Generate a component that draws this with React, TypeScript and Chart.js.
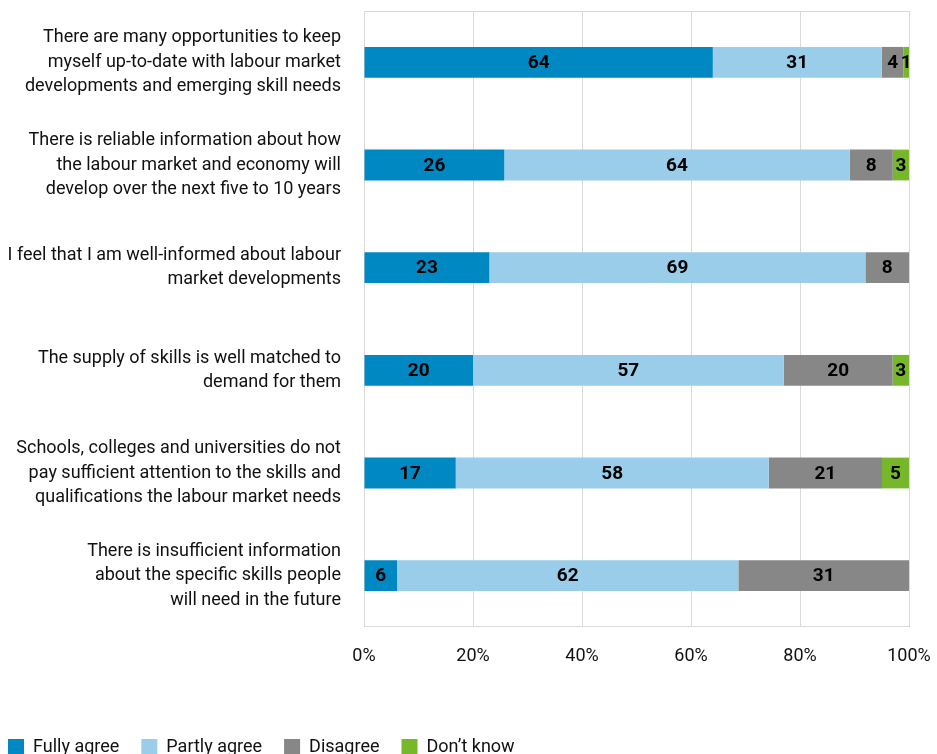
import React, { useEffect, useRef } from "react";
import { Chart, registerables } from "chart.js";

Chart.register(...registerables);

const categories: string[][] = [
  ["There are many opportunities to keep", "myself up-to-date with labour market", "developments and emerging skill needs"],
  ["There is reliable information about how", "the labour market and economy will", "develop over the next five to 10 years"],
  ["I feel that I am well-informed about labour", "market developments"],
  ["The supply of skills is well matched to", "demand for them"],
  ["Schools, colleges and universities do not", "pay sufficient attention to the skills and", "qualifications the labour market needs"],
  ["There is insufficient information", "about the specific skills people", "will need in the future"],
];

const fullyAgree = [64, 26, 23, 20, 17, 6];
const partlyAgree = [31, 64, 69, 57, 58, 62];
const disagree = [4, 8, 8, 20, 21, 31];
const dontKnow = [1, 3, 0, 3, 5, 0];

const seriesNames = ["Fully agree", "Partly agree", "Disagree", "Don\u2019t know"];
const seriesColors = ["#0088c2", "#99cde9", "#878787", "#76b82a"];
const xTicks = [0, 20, 40, 60, 80, 100];

const FONT = "Roboto, 'Liberation Sans', sans-serif";

export default function App() {
  const ref = useRef<HTMLCanvasElement | null>(null);

  useEffect(() => {
    if (!ref.current) return;
    const raw = [fullyAgree, partlyAgree, disagree, dontKnow];
    const totals = categories.map((_, i) => raw.reduce((s, arr) => s + arr[i], 0));
    const datasets = raw.map((arr, k) => ({
      label: seriesNames[k],
      data: arr.map((v, i) => (v / totals[i]) * 100),
      rawValues: arr,
      backgroundColor: seriesColors[k],
      borderWidth: 0,
      barPercentage: 0.3,
      categoryPercentage: 1,
    }));

    const frame = {
      id: "frame",
      beforeDatasetsDraw(chart: any) {
        const { ctx, chartArea } = chart;
        ctx.save();
        ctx.strokeStyle = "#d9d9d9";
        ctx.lineWidth = 1;
        ctx.beginPath();
        ctx.moveTo(chartArea.left, Math.round(chartArea.top) + 0.5);
        ctx.lineTo(chartArea.right, Math.round(chartArea.top) + 0.5);
        ctx.moveTo(chartArea.left, Math.round(chartArea.bottom) - 0.5);
        ctx.lineTo(chartArea.right, Math.round(chartArea.bottom) - 0.5);
        ctx.stroke();
        ctx.restore();
      },
    };

    const valueLabels = {
      id: "valueLabels",
      afterDatasetsDraw(chart: any) {
        const { ctx } = chart;
        ctx.save();
        ctx.font = `bold 19px ${FONT}`;
        ctx.fillStyle = "#000";
        ctx.textAlign = "center";
        ctx.textBaseline = "middle";
        chart.data.datasets.forEach((ds: any, di: number) => {
          const meta = chart.getDatasetMeta(di);
          meta.data.forEach((bar: any, i: number) => {
            const v = ds.rawValues[i];
            if (!v) return;
            ctx.fillText(String(v), (bar.x + bar.base) / 2, bar.y + 1);
          });
        });
        ctx.restore();
      },
    };

    const chart = new Chart(ref.current, {
      type: "bar",
      data: { labels: categories, datasets: datasets as any },
      options: {
        indexAxis: "y",
        animation: false,
        responsive: true,
        maintainAspectRatio: false,
        layout: { padding: { top: 11, left: 0, right: 0, bottom: 0 } },
        scales: {
          x: {
            stacked: true,
            min: 0,
            max: 100,
            afterBuildTicks: (scale: any) => {
              scale.ticks = xTicks.map((v) => ({ value: v }));
            },
            afterFit: (scale: any) => {
              scale.height = 89;
              scale.paddingLeft = 0;
              scale.paddingRight = 28;
            },
            grid: { color: "#d9d9d9", lineWidth: 1, drawTicks: false },
            border: { display: false },
            ticks: {
              padding: 19,
              color: "#111",
              font: { family: FONT, size: 18 },
              callback: (v: any) => v + "%",
            },
          },
          y: {
            stacked: true,
            afterFit: (scale: any) => {
              scale.width = 378;
              scale.paddingTop = 0;
              scale.paddingBottom = 0;
            },
            grid: { display: false },
            border: { display: false },
            ticks: {
              padding: 15,
              color: "#111",
              font: { family: FONT, size: 18, lineHeight: 1.37 },
            },
          },
        },
        plugins: {
          tooltip: { enabled: false },
          legend: {
            position: "bottom",
            align: "start",
            labels: {
              boxWidth: 16,
              boxHeight: 16,
              padding: 22,
              color: "#111",
              font: { family: FONT, size: 18 },
            },
          },
        },
      },
      plugins: [frame, valueLabels],
    });
    return () => chart.destroy();
  }, []);

  return (
    <div style={{ position: "fixed", left: -14, top: 0, width: 951, height: 766 }}>
      <canvas ref={ref} />
    </div>
  );
}
